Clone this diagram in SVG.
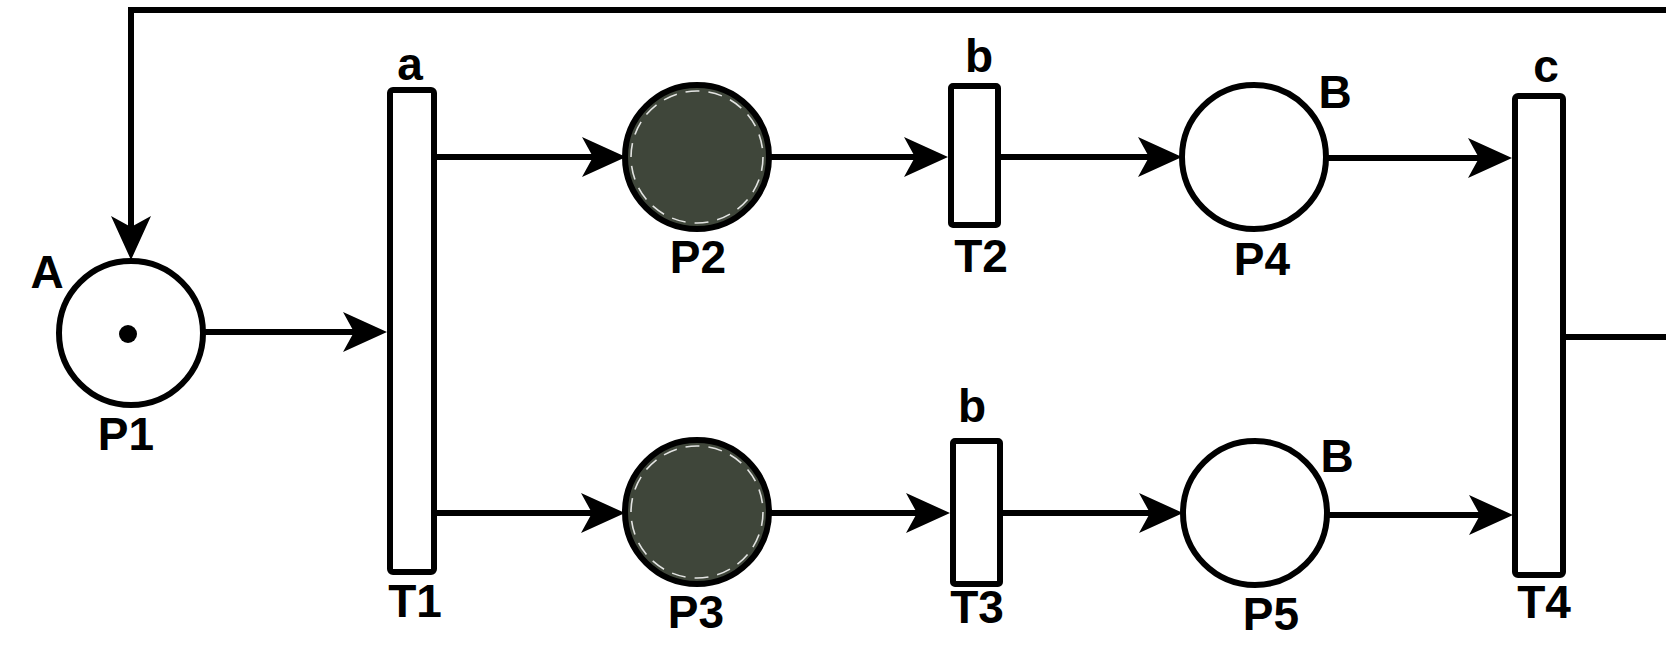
<svg xmlns="http://www.w3.org/2000/svg" width="1666" height="650" viewBox="0 0 1666 650">
<style>
.bg{fill:#ffffff}
.place{fill:#ffffff;stroke:#000;stroke-width:6}
.marked{fill:#3f463a;stroke:#000;stroke-width:6}
.ring{fill:none;stroke:#ffffff;stroke-width:1.6;stroke-dasharray:14 9;opacity:0.85}
.trans{fill:#ffffff;stroke:#000;stroke-width:6}
.arc{fill:none;stroke:#000;stroke-width:6;marker-end:url(#ah)}
.lbl{font-family:"Liberation Sans",Arial,sans-serif;font-weight:bold;font-size:46px;fill:#000;text-anchor:middle}
</style>
<defs>
<marker id="ah" viewBox="-40 -22 54 44" refX="0" refY="0" markerWidth="54" markerHeight="44" markerUnits="userSpaceOnUse" orient="auto">
<path d="M10,0 L-34,-20 L-23,0 L-34,20 Z" fill="#000"/>
</marker>
</defs>
<rect class="bg" x="0" y="0" width="1666" height="650"/>

<g id="connectors">
<path class="arc" d="M1566,337 L1690,337 L1690,10 L131,10 L131,250"/>
<path class="arc" d="M203,332 L377,332"/>
<path class="arc" d="M437,157 L616,157"/>
<path class="arc" d="M437,513 L615,513"/>
<path class="arc" d="M769,157 L938,157"/>
<path class="arc" d="M769,513 L940,513"/>
<path class="arc" d="M1000,157 L1172,157"/>
<path class="arc" d="M1003,513 L1173,513"/>
<path class="arc" d="M1326,158 L1502,158"/>
<path class="arc" d="M1327,515 L1503,515"/>
</g>

<g id="P1">
<circle class="place" cx="131" cy="333" r="72"/>
<circle cx="128" cy="334" r="9" fill="#000"/>
<text class="lbl" x="47" y="288">A</text>
<text class="lbl" x="126" y="450">P1</text>
</g>

<g id="T1">
<rect class="trans" x="390" y="90" width="44" height="482" rx="3"/>
<text class="lbl" x="410" y="80">a</text>
<text class="lbl" x="415" y="617">T1</text>
</g>

<g id="P2">
<circle class="marked" cx="697" cy="157" r="72"/>
<circle class="ring" cx="697" cy="157" r="66"/>
<text class="lbl" x="698" y="273">P2</text>
</g>

<g id="P3">
<circle class="marked" cx="697" cy="512" r="72"/>
<circle class="ring" cx="697" cy="512" r="66"/>
<text class="lbl" x="696" y="628">P3</text>
</g>

<g id="T2">
<rect class="trans" x="951" y="86" width="47" height="139" rx="2"/>
<text class="lbl" x="979" y="72">b</text>
<text class="lbl" x="981" y="272">T2</text>
</g>

<g id="T3">
<rect class="trans" x="953" y="441" width="47" height="143" rx="2"/>
<text class="lbl" x="972" y="422">b</text>
<text class="lbl" x="977" y="623">T3</text>
</g>

<g id="P4">
<circle class="place" cx="1254" cy="157" r="72"/>
<text class="lbl" x="1335" y="108">B</text>
<text class="lbl" x="1262" y="275">P4</text>
</g>

<g id="P5">
<circle class="place" cx="1255" cy="513" r="72"/>
<text class="lbl" x="1337" y="472">B</text>
<text class="lbl" x="1271" y="630">P5</text>
</g>

<g id="T4">
<rect class="trans" x="1515" y="96" width="48" height="479" rx="3"/>
<text class="lbl" x="1546" y="82">c</text>
<text class="lbl" x="1544" y="618">T4</text>
</g>
</svg>
